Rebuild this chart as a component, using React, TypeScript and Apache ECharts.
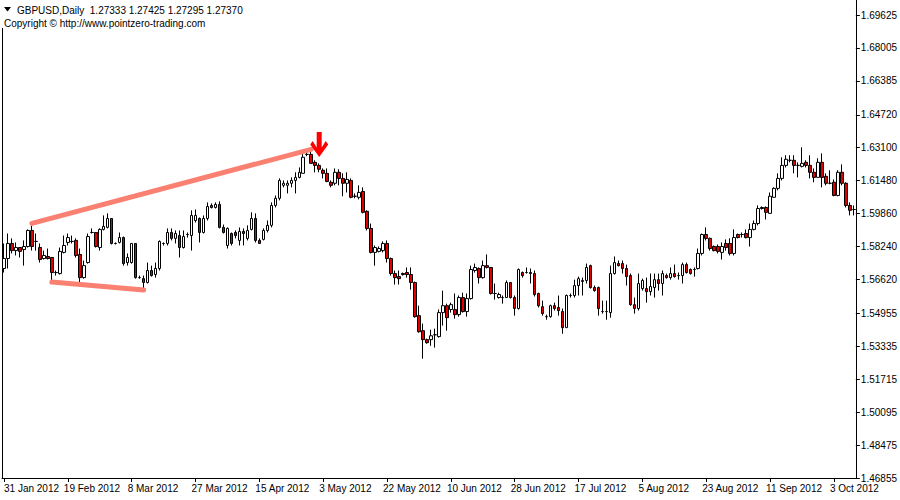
import React, { useEffect, useRef } from "react";
import * as echarts from "echarts";

// ---- Data ----
const TICK_LABELS = [
  "31 Jan 2012", "19 Feb 2012", "8 Mar 2012", "27 Mar 2012", "15 Apr 2012",
  "3 May 2012", "22 May 2012", "10 Jun 2012", "28 Jun 2012", "17 Jul 2012",
  "5 Aug 2012", "23 Aug 2012", "11 Sep 2012", "3 Oct 2012",
];
const LABEL_STEP = 16;

const PRICE_TICKS = [
  1.69625, 1.68005, 1.66385, 1.6472, 1.631, 1.6148, 1.5986, 1.5824,
  1.5662, 1.54955, 1.53335, 1.51715, 1.50095, 1.48475, 1.46855,
];
const PRICE_MIN = 1.46855;
const PRICE_MAX = 1.70364;

const opens = [
  1.5716, 1.5765, 1.5839, 1.5804, 1.5819, 1.5809, 1.5824, 1.5903, 1.5849, 1.5819,
  1.5765, 1.5775, 1.5770, 1.5696, 1.5691, 1.5795, 1.5844, 1.5849, 1.5854, 1.5785,
  1.5671, 1.5745, 1.5893, 1.5893, 1.5819, 1.5908, 1.5918, 1.5962, 1.5839, 1.5844,
  1.5868, 1.5745, 1.5745, 1.5839, 1.5671, 1.5666, 1.5647, 1.5706, 1.5686, 1.5716,
  1.5839, 1.5839, 1.5893, 1.5864, 1.5878, 1.5819, 1.5883, 1.5878, 1.5952, 1.5962,
  1.5893, 1.5962, 1.6026, 1.6016, 1.6031, 1.5918, 1.5829, 1.5888, 1.5893, 1.5854,
  1.5898, 1.5864, 1.5908, 1.5962, 1.5854, 1.5859, 1.5903, 1.5928, 1.6026, 1.6061,
  1.6125, 1.6125, 1.6135, 1.6149, 1.6164, 1.6184, 1.6277, 1.6277, 1.6238, 1.6223,
  1.6199, 1.6184, 1.6140, 1.6135, 1.6189, 1.6159, 1.6135, 1.6149, 1.6071, 1.6066,
  1.6095, 1.5997, 1.5913, 1.5795, 1.5800, 1.5804, 1.5839, 1.5765, 1.5691, 1.5676,
  1.5691, 1.5696, 1.5686, 1.5647, 1.5484, 1.5410, 1.5366, 1.5366, 1.5390, 1.5381,
  1.5499, 1.5533, 1.5514, 1.5514, 1.5489, 1.5573, 1.5504, 1.5568, 1.5706, 1.5716,
  1.5671, 1.5730, 1.5721, 1.5593, 1.5573, 1.5573, 1.5573, 1.5647, 1.5573, 1.5519,
  1.5696, 1.5696, 1.5696, 1.5691, 1.5593, 1.5528, 1.5479, 1.5479, 1.5533, 1.5524,
  1.5504, 1.5425, 1.5583, 1.5583, 1.5632, 1.5652, 1.5657, 1.5730, 1.5622, 1.5622,
  1.5504, 1.5504, 1.5499, 1.5691, 1.5740, 1.5740, 1.5716, 1.5681, 1.5538, 1.5519,
  1.5617, 1.5617, 1.5602, 1.5622, 1.5661, 1.5642, 1.5681, 1.5671, 1.5691, 1.5681,
  1.5681, 1.5735, 1.5711, 1.5711, 1.5716, 1.5790, 1.5883, 1.5864, 1.5824, 1.5824,
  1.5795, 1.5839, 1.5839, 1.5790, 1.5883, 1.5883, 1.5888, 1.5868, 1.5908, 1.5937,
  1.6016, 1.6016, 1.5987, 1.6066, 1.6110, 1.6159, 1.6223, 1.6248, 1.6248, 1.6223,
  1.6218, 1.6238, 1.6223, 1.6189, 1.6164, 1.6238, 1.6169, 1.6135, 1.6140, 1.6075,
  1.6189, 1.6135, 1.6026, 1.6006,
];
const closes = [
  1.5765, 1.5839, 1.5804, 1.5819, 1.5800, 1.5824, 1.5903, 1.5824, 1.5849, 1.5760,
  1.5780, 1.5765, 1.5696, 1.5696, 1.5800, 1.5829, 1.5868, 1.5849, 1.5780, 1.5671,
  1.5730, 1.5873, 1.5893, 1.5824, 1.5908, 1.5923, 1.5962, 1.5839, 1.5839, 1.5868,
  1.5740, 1.5770, 1.5839, 1.5671, 1.5671, 1.5647, 1.5706, 1.5681, 1.5716, 1.5849,
  1.5839, 1.5893, 1.5864, 1.5888, 1.5819, 1.5873, 1.5883, 1.5977, 1.5977, 1.5893,
  1.5962, 1.6021, 1.6016, 1.6031, 1.5918, 1.5893, 1.5913, 1.5839, 1.5878, 1.5898,
  1.5888, 1.5903, 1.5962, 1.5854, 1.5839, 1.5903, 1.5928, 1.6026, 1.6061, 1.6149,
  1.6135, 1.6135, 1.6149, 1.6164, 1.6189, 1.6263, 1.6277, 1.6233, 1.6223, 1.6204,
  1.6184, 1.6144, 1.6125, 1.6189, 1.6159, 1.6135, 1.6154, 1.6066, 1.6071, 1.6090,
  1.5992, 1.5913, 1.5795, 1.5819, 1.5814, 1.5839, 1.5765, 1.5691, 1.5671, 1.5666,
  1.5686, 1.5686, 1.5647, 1.5479, 1.5405, 1.5366, 1.5351, 1.5385, 1.5390, 1.5499,
  1.5533, 1.5474, 1.5538, 1.5489, 1.5573, 1.5504, 1.5568, 1.5711, 1.5721, 1.5671,
  1.5730, 1.5721, 1.5593, 1.5593, 1.5588, 1.5573, 1.5647, 1.5573, 1.5519, 1.5711,
  1.5681, 1.5696, 1.5691, 1.5588, 1.5533, 1.5494, 1.5479, 1.5533, 1.5519, 1.5509,
  1.5425, 1.5583, 1.5583, 1.5632, 1.5666, 1.5657, 1.5721, 1.5622, 1.5607, 1.5519,
  1.5504, 1.5504, 1.5691, 1.5745, 1.5730, 1.5716, 1.5676, 1.5538, 1.5519, 1.5642,
  1.5657, 1.5602, 1.5627, 1.5661, 1.5642, 1.5691, 1.5671, 1.5691, 1.5676, 1.5681,
  1.5735, 1.5696, 1.5691, 1.5711, 1.5790, 1.5883, 1.5864, 1.5814, 1.5804, 1.5800,
  1.5824, 1.5819, 1.5790, 1.5868, 1.5868, 1.5883, 1.5868, 1.5908, 1.5937, 1.6011,
  1.6011, 1.5992, 1.6071, 1.6110, 1.6159, 1.6223, 1.6253, 1.6248, 1.6223, 1.6223,
  1.6233, 1.6223, 1.6189, 1.6164, 1.6238, 1.6164, 1.6135, 1.6135, 1.6075, 1.6189,
  1.6135, 1.6026, 1.6002, 1.6006,
];
const lows = [
  1.5696, 1.5716, 1.5790, 1.5780, 1.5770, 1.5730, 1.5819, 1.5804, 1.5804, 1.5745,
  1.5760, 1.5760, 1.5647, 1.5681, 1.5686, 1.5790, 1.5829, 1.5839, 1.5770, 1.5647,
  1.5666, 1.5740, 1.5888, 1.5819, 1.5804, 1.5903, 1.5913, 1.5834, 1.5834, 1.5839,
  1.5730, 1.5730, 1.5740, 1.5666, 1.5666, 1.5607, 1.5642, 1.5676, 1.5671, 1.5706,
  1.5829, 1.5829, 1.5854, 1.5839, 1.5770, 1.5814, 1.5868, 1.5804, 1.5942, 1.5844,
  1.5888, 1.5952, 1.6011, 1.6011, 1.5913, 1.5888, 1.5814, 1.5829, 1.5864, 1.5829,
  1.5829, 1.5854, 1.5903, 1.5844, 1.5839, 1.5854, 1.5893, 1.5918, 1.6016, 1.6051,
  1.6115, 1.6085, 1.6115, 1.6085, 1.6159, 1.6184, 1.6268, 1.6233, 1.6189, 1.6189,
  1.6159, 1.6140, 1.6115, 1.6125, 1.6125, 1.6071, 1.6090, 1.6061, 1.6061, 1.6056,
  1.5987, 1.5903, 1.5790, 1.5730, 1.5795, 1.5795, 1.5745, 1.5681, 1.5637, 1.5637,
  1.5681, 1.5671, 1.5612, 1.5474, 1.5400, 1.5272, 1.5346, 1.5336, 1.5327, 1.5376,
  1.5435, 1.5410, 1.5499, 1.5469, 1.5479, 1.5499, 1.5479, 1.5563, 1.5696, 1.5642,
  1.5666, 1.5716, 1.5588, 1.5563, 1.5568, 1.5543, 1.5573, 1.5568, 1.5484, 1.5514,
  1.5671, 1.5691, 1.5642, 1.5578, 1.5524, 1.5484, 1.5464, 1.5474, 1.5509, 1.5484,
  1.5395, 1.5425, 1.5573, 1.5573, 1.5583, 1.5583, 1.5642, 1.5617, 1.5602, 1.5484,
  1.5494, 1.5464, 1.5474, 1.5686, 1.5726, 1.5691, 1.5632, 1.5533, 1.5494, 1.5509,
  1.5607, 1.5548, 1.5583, 1.5573, 1.5607, 1.5583, 1.5666, 1.5661, 1.5671, 1.5661,
  1.5642, 1.5691, 1.5686, 1.5676, 1.5711, 1.5780, 1.5854, 1.5804, 1.5800, 1.5790,
  1.5760, 1.5804, 1.5780, 1.5780, 1.5864, 1.5868, 1.5864, 1.5824, 1.5903, 1.5928,
  1.6006, 1.5957, 1.5987, 1.6066, 1.6100, 1.6149, 1.6213, 1.6238, 1.6184, 1.6164,
  1.6213, 1.6213, 1.6159, 1.6140, 1.6164, 1.6115, 1.6125, 1.6130, 1.6071, 1.6071,
  1.6125, 1.6016, 1.5977, 1.5977,
];
const highs = [
  1.5839, 1.5888, 1.5864, 1.5844, 1.5819, 1.5854, 1.5908, 1.5928, 1.5888, 1.5839,
  1.5804, 1.5814, 1.5770, 1.5706, 1.5819, 1.5878, 1.5888, 1.5878, 1.5864, 1.5814,
  1.5755, 1.5888, 1.5913, 1.5893, 1.5913, 1.5977, 1.5987, 1.5962, 1.5844, 1.5893,
  1.5873, 1.5790, 1.5839, 1.5839, 1.5681, 1.5681, 1.5745, 1.5730, 1.5745, 1.5854,
  1.5844, 1.5913, 1.5913, 1.5903, 1.5903, 1.5903, 1.5893, 1.6002, 1.6006, 1.5967,
  1.5977, 1.6041, 1.6036, 1.6041, 1.6046, 1.5932, 1.5918, 1.5893, 1.5903, 1.5918,
  1.5913, 1.5928, 1.5992, 1.5987, 1.5864, 1.5913, 1.5952, 1.6041, 1.6075, 1.6159,
  1.6149, 1.6149, 1.6164, 1.6189, 1.6213, 1.6287, 1.6287, 1.6307, 1.6248, 1.6233,
  1.6208, 1.6208, 1.6149, 1.6208, 1.6204, 1.6184, 1.6189, 1.6159, 1.6085, 1.6125,
  1.6115, 1.6002, 1.5937, 1.5829, 1.5824, 1.5849, 1.5854, 1.5770, 1.5706, 1.5706,
  1.5696, 1.5721, 1.5721, 1.5652, 1.5533, 1.5445, 1.5371, 1.5415, 1.5420, 1.5514,
  1.5607, 1.5543, 1.5548, 1.5593, 1.5583, 1.5597, 1.5593, 1.5730, 1.5740, 1.5721,
  1.5755, 1.5785, 1.5721, 1.5642, 1.5597, 1.5583, 1.5657, 1.5647, 1.5583, 1.5716,
  1.5701, 1.5721, 1.5716, 1.5706, 1.5597, 1.5558, 1.5489, 1.5538, 1.5548, 1.5583,
  1.5519, 1.5588, 1.5593, 1.5661, 1.5676, 1.5671, 1.5740, 1.5735, 1.5632, 1.5627,
  1.5558, 1.5558, 1.5730, 1.5775, 1.5755, 1.5755, 1.5735, 1.5691, 1.5573, 1.5691,
  1.5666, 1.5671, 1.5691, 1.5691, 1.5691, 1.5706, 1.5691, 1.5721, 1.5735, 1.5696,
  1.5745, 1.5745, 1.5716, 1.5721, 1.5814, 1.5888, 1.5918, 1.5868, 1.5829, 1.5834,
  1.5844, 1.5859, 1.5864, 1.5908, 1.5888, 1.5893, 1.5908, 1.5937, 1.5952, 1.6026,
  1.6021, 1.6021, 1.6090, 1.6115, 1.6184, 1.6263, 1.6273, 1.6273, 1.6273, 1.6238,
  1.6312, 1.6248, 1.6273, 1.6208, 1.6258, 1.6282, 1.6184, 1.6199, 1.6154, 1.6199,
  1.6228, 1.6140, 1.6041, 1.6026,
];

// trend lines drawn on the chart: [startIndex, startPrice, endIndex, endPrice]
const TREND_UPPER = [7, 1.5938, 77, 1.6302];
const TREND_LOWER = [12, 1.5649, 35, 1.5610];
// sell arrow annotation: [barIndex, price]
const SELL_ARROW = [79, 1.6326];

const TITLE_TEXT = "GBPUSD,Daily\u00a0 1.27333 1.27425 1.27295 1.27370";
const COPYRIGHT_TEXT = "Copyright \u00a9 http://www.pointzero-trading.com";

const MONTHS = ["Jan", "Feb", "Mar", "Apr", "May", "Jun", "Jul", "Aug", "Sep", "Oct", "Nov", "Dec"];

// broker calendar: Sunday bars until mid-September, weekdays only afterwards
function buildDates(n: number): string[] {
  const out: string[] = [];
  const d = new Date(Date.UTC(2012, 0, 31));
  const sundayCutoff = Date.UTC(2012, 8, 12);
  while (out.length < n) {
    const wd = d.getUTCDay();
    const ok = (wd >= 1 && wd <= 5) || (wd === 0 && d.getTime() < sundayCutoff);
    if (ok) out.push(`${d.getUTCDate()} ${MONTHS[d.getUTCMonth()]} ${d.getUTCFullYear()}`);
    d.setUTCDate(d.getUTCDate() + 1);
  }
  return out;
}

const ARROW_PATH =
  "path://M6.5,0 L11.5,0 L11.5,15.5 L15.5,9 L18,12.5 L9,25 L0,12.5 L2.5,9 L6.5,15.5 Z";

const FONT = "Liberation Sans";

export default function App() {
  const ref = useRef<HTMLDivElement>(null);

  useEffect(() => {
    if (!ref.current) return;
    const chart = echarts.init(ref.current, null, { renderer: "svg" });
    const dates = buildDates(opens.length);
    const data = opens.map((o, i) => [o, closes[i], lows[i], highs[i]]);

    const option: any = {
      animation: false,
      backgroundColor: "#ffffff",
      grid: { left: 2, right: 44, top: 0, bottom: 22, containLabel: false },
      xAxis: {
        type: "category",
        data: dates,
        boundaryGap: true,
        axisLine: { show: true, lineStyle: { color: "#000", width: 1 } },
        axisTick: {
          show: true,
          alignWithLabel: true,
          interval: (i: number) => i % LABEL_STEP === 0,
          length: 4,
          lineStyle: { color: "#000" },
        },
        axisLabel: {
          interval: (i: number) => i === 0 || (i + 1) % LABEL_STEP === 0,
          formatter: (_v: string, i: number) =>
            i === 0 ? TICK_LABELS[0] : TICK_LABELS[(i + 1) / LABEL_STEP] || "",
          align: "left",
          color: "#000",
          fontSize: 10,
          fontFamily: FONT,
          margin: 5,
        },
        splitLine: { show: false },
      },
      yAxis: {
        type: "value",
        position: "right",
        min: PRICE_MIN,
        max: PRICE_MAX,
        axisLine: { show: true, lineStyle: { color: "#000", width: 1 } },
        axisTick: {
          show: true,
          customValues: PRICE_TICKS,
          length: 4,
          lineStyle: { color: "#000" },
        },
        axisLabel: {
          customValues: PRICE_TICKS,
          formatter: (v: number) => v.toFixed(5),
          color: "#000",
          fontSize: 10,
          fontFamily: FONT,
          margin: 5,
        },
        splitLine: { show: false },
      },
      series: [
        {
          type: "candlestick",
          data,
          barWidth: 3,
          itemStyle: {
            color: "#ffffff",
            color0: "#E00000",
            borderColor: "#000000",
            borderColor0: "#000000",
            borderWidth: 1,
          },
          markLine: {
            silent: true,
            symbol: ["none", "none"],
            label: { show: false },
            lineStyle: { color: "#FA8072", width: 5, type: "solid", cap: "round" },
            data: [
              [
                { coord: [TREND_UPPER[0], TREND_UPPER[1]] },
                { coord: [TREND_UPPER[2], TREND_UPPER[3]] },
              ],
              [
                { coord: [TREND_LOWER[0], TREND_LOWER[1]] },
                { coord: [TREND_LOWER[2], TREND_LOWER[3]] },
              ],
            ],
          },
          markPoint: {
            silent: true,
            label: { show: false },
            data: [
              {
                coord: [SELL_ARROW[0], SELL_ARROW[1]],
                symbol: ARROW_PATH,
                symbolSize: [18, 25],
                itemStyle: { color: "#FF0000" },
              },
            ],
          },
        },
      ],
      graphic: [
        {
          type: "line",
          shape: { x1: 2.5, y1: 28, x2: 2.5, y2: 478 },
          style: { stroke: "#000", lineWidth: 1 },
          silent: true,
        },
        {
          type: "polygon",
          shape: { points: [[4, 7], [11, 7], [7.5, 11.5]] },
          style: { fill: "#000" },
          silent: true,
        },
        {
          type: "text",
          x: 17,
          y: 10,
          style: {
            text: TITLE_TEXT,
            fill: "#000",
            font: `10px "${FONT}"`,
            textVerticalAlign: "middle",
          },
          silent: true,
        },
        {
          type: "text",
          x: 4,
          y: 23,
          style: {
            text: COPYRIGHT_TEXT,
            fill: "#000",
            font: `10px "${FONT}"`,
            textVerticalAlign: "middle",
          },
          silent: true,
        },
      ],
    };

    chart.setOption(option);
    return () => chart.dispose();
  }, []);

  return (
    <div
      ref={ref}
      style={{ position: "fixed", left: 0, top: 0, width: 900, height: 500, background: "#fff" }}
    />
  );
}
